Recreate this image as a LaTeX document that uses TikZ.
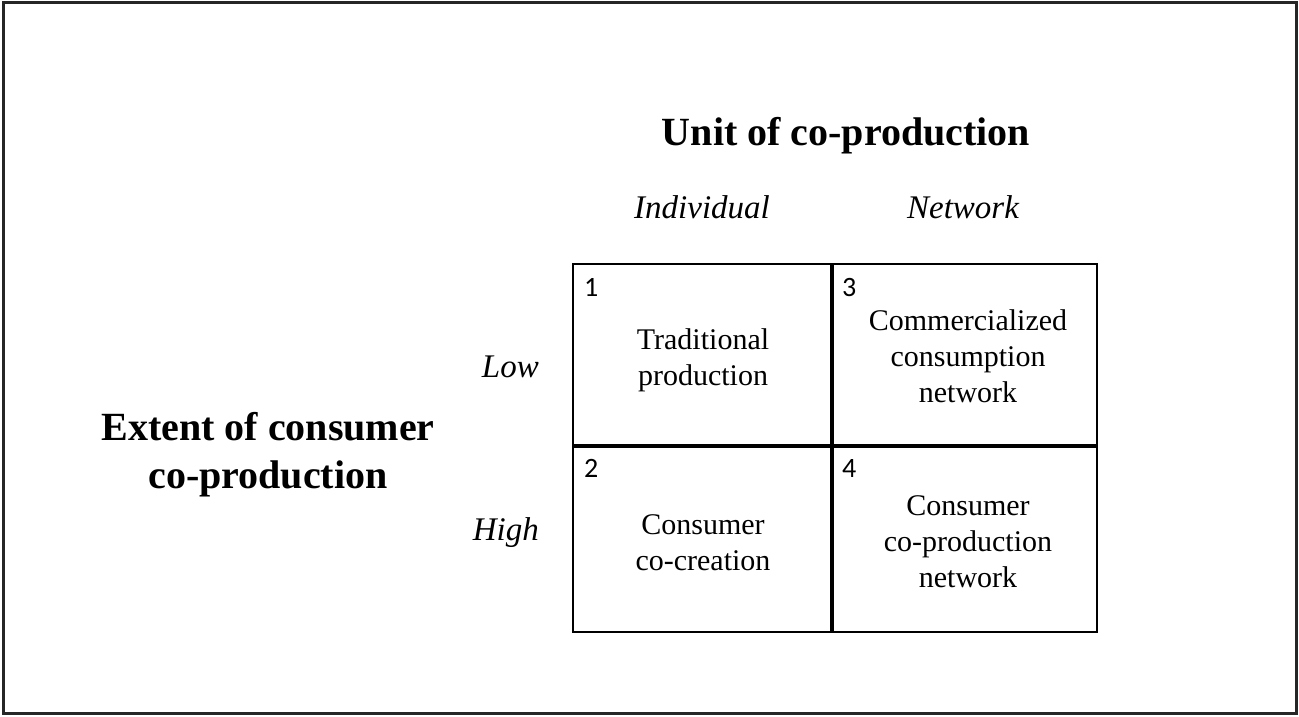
\documentclass[tikz,border=0pt]{standalone}
\usepackage{fontspec}
\setmainfont{Liberation Serif}
\newfontfamily\numfont{Carlito}
\begin{document}
\begin{tikzpicture}[x=1pt,y=-1pt,
  body/.style={inner sep=0pt,anchor=base,font=\fontsize{30}{36}\selectfont},
  ital/.style={inner sep=0pt,anchor=base,font=\fontsize{33}{40}\selectfont\itshape},
  bold/.style={inner sep=0pt,anchor=base,font=\fontsize{40}{48}\selectfont\bfseries},
  num/.style={inner sep=0pt,anchor=base west,font=\fontsize{28}{32}\selectfont\numfont},
  thinline/.style={line width=1.5pt},
  thickline/.style={line width=3.5pt}]
\useasboundingbox (0,0) rectangle (1299,717);
\draw[line width=3pt,black!85] (3,3) rectangle (1296,713);
% grid
\coordinate (tl) at (573,264);
\coordinate (br) at (1097,632);
\coordinate (mt) at (832,264);
\coordinate (mb) at (832,632);
\coordinate (ml) at (573,446);
\coordinate (mr) at (1097,446);
\draw[thinline] (tl) rectangle (br);
\draw[thickline] (mt) -- (mb);
\draw[thickline] (ml) -- (mr);
% headings
\node[bold] (title) at (846,145) {Unit of co-production};
\node[ital] (ind) at (702,218) {Individual};
\node[ital] (net) at (963,218) {Network};
\node[ital,anchor=base east] (low) at (539,377) {Low};
\node[ital,anchor=base east] (high) at (539,540) {High};
\node[bold] (ext1) at (268,440) {Extent of consumer};
\node[bold] (ext2) at (268,488) {co-production};
% numbers
\node[num] (n1) at (584,296) {1};
\node[num] (n3) at (842,296) {3};
\node[num] (n2) at (584,477) {2};
\node[num] (n4) at (842,477) {4};
% cell texts
\node[body] (c1a) at (703,349) {Traditional};
\node[body] (c1b) at (703,385) {production};
\node[body] (c3a) at (968,330) {Commercialized};
\node[body] (c3b) at (968,366) {consumption};
\node[body] (c3c) at (968,402) {network};
\node[body] (c2a) at (703,534) {Consumer};
\node[body] (c2b) at (703,570) {co-creation};
\node[body] (c4a) at (968,515) {Consumer};
\node[body] (c4b) at (968,551) {co-production};
\node[body] (c4c) at (968,587) {network};
\end{tikzpicture}
\end{document}
